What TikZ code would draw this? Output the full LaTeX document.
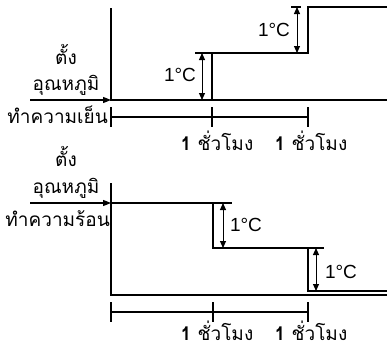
\documentclass[tikz,border=0pt]{standalone}
\usepackage{fontspec}
\setmainfont{Liberation Sans}
\newfontfamily\thaifont[Script=Thai]{Loma}
\usetikzlibrary{arrows.meta,positioning,calc}
\tikzset{
  trait/.style={line width=1.1pt, draw=black},
  cote/.style={{Triangle[length=7pt,width=6pt]}-{Triangle[length=7pt,width=6pt]}, line width=1pt},
  consigne/.style={-{Triangle[length=8pt,width=6pt]}, line width=1.1pt},
  thai/.style={font=\thaifont\fontsize{19}{21}\selectfont, inner sep=0pt},
  degre/.style={font=\fontsize{19}{21}\selectfont, inner sep=0pt},
}
\newcommand{\heure}{\textbf{1}\ {\thaifont ชั่วโมง}}

\begin{document}
\begin{tikzpicture}[x=1pt,y=-1pt]
  \useasboundingbox (0,0) rectangle (387,348);

  % mode froid
  \coordinate (f0) at (111,100);
  \coordinate (fh) at (111,8);
  \coordinate (fe) at (387,100);
  \coordinate (fs) at (30,100);
  \draw[trait] (fh) -- (f0) -- (fe);
  \draw[trait] (212,100) -- (212,53) -- (308,53) -- (308,7) -- (387,7);
  \draw[consigne] (fs) -- (f0);
  \node[thai, anchor=base] (ft1) at (66,64) {ตั้ง};
  \node[thai, anchor=base] (ft2) at (66,90) {อุณหภูมิ};
  \node[thai, anchor=base east] (ft3) at (108,123) {ทำความเย็น};
  \draw[trait] (195,53) -- (212,53);
  \draw[cote] (202,53) -- (202,100);
  \node[degre] (fd1) at (180,75) {1°C};
  \draw[trait] (291,7) -- (301,7);
  \draw[cote] (297,7) -- (297,53);
  \node[degre] (fd2) at (274,30) {1°C};
  \draw[trait] (111,117) -- (308,117);
  \foreach \x in {111,212,308}
    \draw[trait] (\x,107) -- (\x,127);
  \node[thai, anchor=base] (fh1) at (217,150) {\heure};
  \node[thai, anchor=base] (fh2) at (311,150) {\heure};

  % mode chaud
  \coordinate (c0) at (111,295);
  \coordinate (ch) at (111,183);
  \coordinate (ce) at (387,295);
  \coordinate (cs) at (30,203);
  \coordinate (cc) at (111,203);
  \draw[trait] (ch) -- (c0) -- (ce);
  \draw[trait] (cc) -- (213,203) -- (213,248) -- (308,248) -- (308,291) -- (387,291);
  \draw[consigne] (cs) -- (cc);
  \node[thai, anchor=base] (ct1) at (66,166) {ตั้ง};
  \node[thai, anchor=base] (ct2) at (66,193) {อุณหภูมิ};
  \node[thai, anchor=base east] (ct3) at (110,226) {ทำความร้อน};
  \draw[trait] (213,203) -- (232,203);
  \draw[cote] (223,203) -- (223,248);
  \node[degre] (cd1) at (246,225) {1°C};
  \draw[trait] (308,248) -- (324,248);
  \draw[cote] (316,248) -- (316,291);
  \node[degre] (cd2) at (341,272) {1°C};
  \draw[trait] (111,312) -- (308,312);
  \foreach \x in {111,213,308}
    \draw[trait] (\x,302) -- (\x,322);
  \node[thai, anchor=base] (ch1) at (217,340) {\heure};
  \node[thai, anchor=base] (ch2) at (311,340) {\heure};
\end{tikzpicture}
\end{document}
